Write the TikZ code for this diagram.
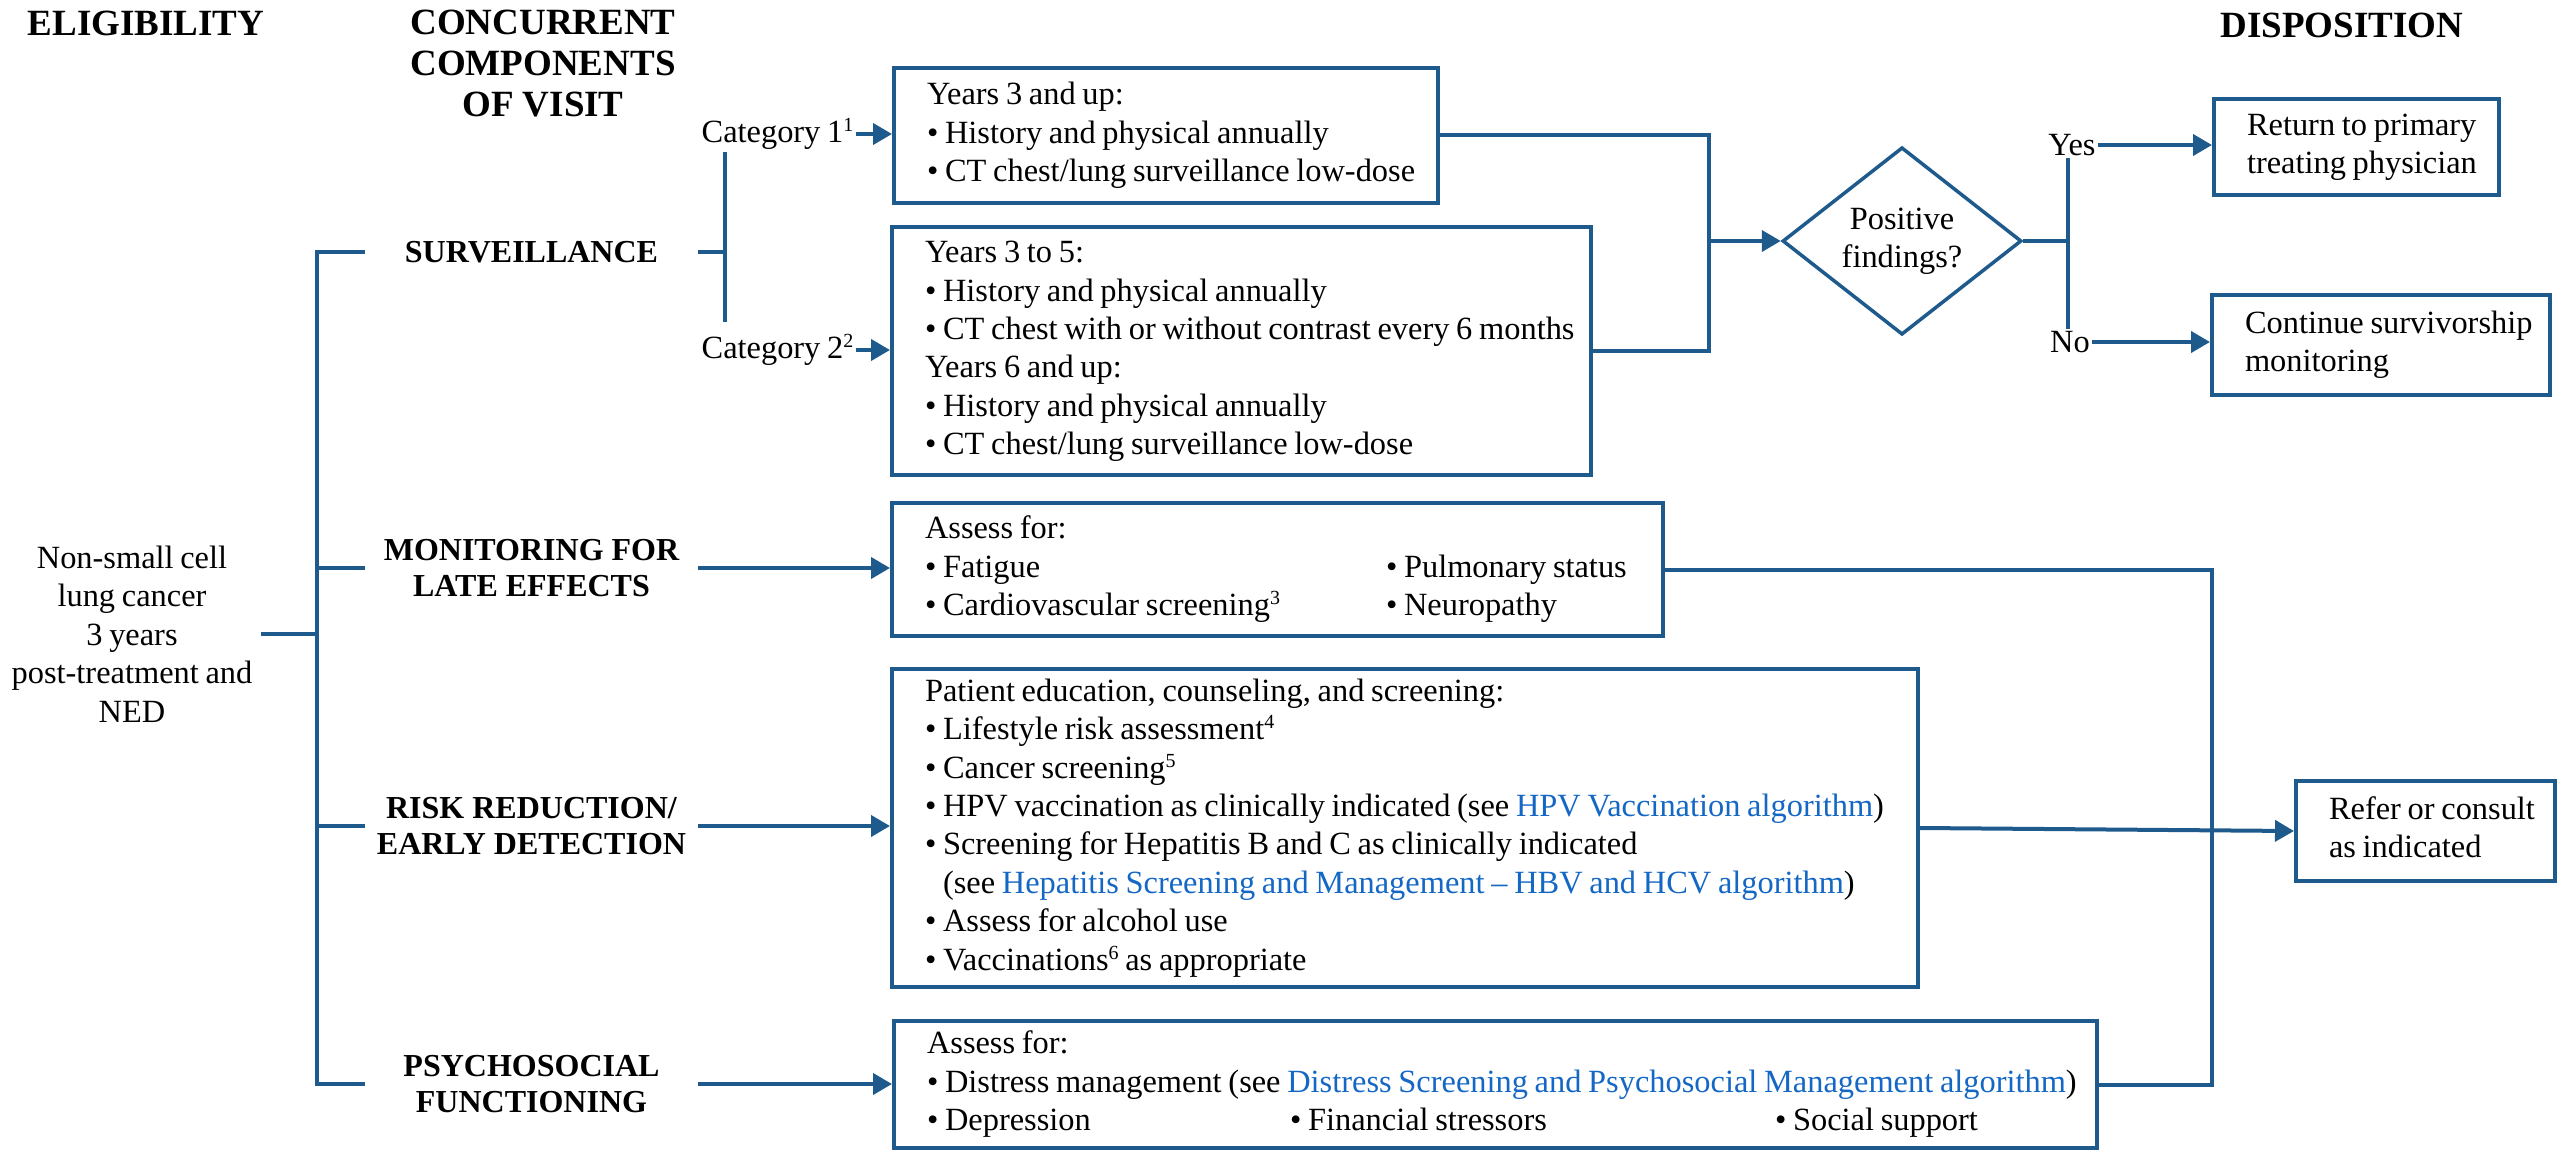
\documentclass[tikz,border=0pt]{standalone}
\usepackage{fontspec}
\setmainfont{Liberation Serif}
\newfontfamily\bxf{Liberation Serif}[WordSpace=0.83]
\usetikzlibrary{arrows.meta,shapes.geometric}
\definecolor{ln}{RGB}{31,90,140}
\definecolor{lk}{RGB}{20,103,196}
\newcommand{\lnk}[1]{\textcolor{lk}{#1}}
\newcommand{\bul}{\textbullet\ }
\newcommand{\sups}[1]{\raisebox{11pt}{\fontsize{20}{20}\selectfont #1}}
\tikzset{
  boxnode/.style={draw=ln, line width=4pt, anchor=north west, inner xsep=0pt, inner ysep=0pt,
    align=left, font=\bxf\fontsize{32.4}{38.4}\selectfont,
    execute at begin node={\leftskip=33pt\rightskip=-300pt plus 1fil\spaceskip=0pt\xspaceskip=0pt\relax\strut},
    execute at end node={\strut}},
  hdr/.style={font=\fontsize{32}{36}\selectfont\bfseries, align=center, minimum width=333pt, inner sep=0pt},
  tophdr/.style={font=\fontsize{37}{41}\selectfont\bfseries, align=center, inner sep=0pt},
  lbl/.style={font=\bxf\fontsize{32.4}{38.4}\selectfont, inner xsep=2pt, inner ysep=2pt},
  conn/.style={draw=ln, line width=4pt},
  arr/.style={conn, -{Triangle[length=19pt,width=21pt]}},
}
\begin{document}
\begin{tikzpicture}[x=1pt,y=-1pt]
\useasboundingbox (0,0) rectangle (2564,1150);

% top headers
\node[tophdr] (tE) at (146,23) {ELIGIBILITY};
\node[tophdr] (tC) at (543,64) {CONCURRENT\\COMPONENTS\\OF VISIT};
\node[tophdr] (tD) at (2342,25) {DISPOSITION};

% eligibility
\node[lbl, align=center, inner xsep=8pt] (el) at (132,634) {Non-small cell\\lung cancer\\3 years\\post-treatment and\\NED};

% component headers
\node[hdr] (hS) at (531.5,252) {SURVEILLANCE};
\node[hdr] (hM) at (531.5,568) {MONITORING FOR\\LATE EFFECTS};
\node[hdr] (hR) at (531.5,826) {RISK REDUCTION/\\EARLY DETECTION};
\node[hdr] (hP) at (531.5,1084) {PSYCHOSOCIAL\\FUNCTIONING};

% category labels
\node[lbl] (c1) at (777.5,134) {Category 1\sups{1}};
\node[lbl] (c2) at (777.5,350) {Category 2\sups{2}};

% boxes
\node[boxnode, text width=544pt, minimum height=135pt] (b1) at (892,66)
 {Years 3 and up:\\\bul History and physical annually\\\bul CT chest/lung surveillance low-dose};
\node[boxnode, text width=699pt, minimum height=248pt] (b2) at (890,225)
 {Years 3 to 5:\\\bul History and physical annually\\\bul CT chest with or without contrast every 6 months\\Years 6 and up:\\\bul History and physical annually\\\bul CT chest/lung surveillance low-dose};
\node[boxnode, text width=771pt, minimum height=133pt] (mon) at (890,501)
 {Assess for:\\\makebox[461pt][l]{\bul Fatigue}\bul Pulmonary status\\\makebox[461pt][l]{\bul Cardiovascular screening\sups{3}}\bul Neuropathy};
\node[boxnode, text width=1026pt, minimum height=318pt] (risk) at (890,667)
 {Patient education, counseling, and screening:\\\bul Lifestyle risk assessment\sups{4}\\\bul Cancer screening\sups{5}\\\bul HPV vaccination as clinically indicated (see \lnk{HPV Vaccination algorithm})\\\bul Screening for Hepatitis B and C as clinically indicated\\\hphantom{\textbullet}\ (see \lnk{Hepatitis Screening and Management \textendash\ HBV and HCV algorithm})\\\bul Assess for alcohol use\\\bul Vaccinations\sups{6} as appropriate};
\node[boxnode, text width=1203pt, minimum height=127pt] (psy) at (892,1019)
 {Assess for:\\\bul Distress management (see \lnk{Distress Screening and Psychosocial Management algorithm})\\\makebox[363pt][l]{\bul Depression}\makebox[485pt][l]{\bul Financial stressors}\bul Social support};
\node[boxnode, text width=285pt, minimum height=96pt] (ret) at (2212,97)
 {Return to primary\\treating physician};
\node[boxnode, text width=338pt, minimum height=100pt] (cont) at (2210,293)
 {Continue survivorship\\monitoring};
\node[boxnode, text width=259pt, minimum height=100pt] (ref) at (2294,779)
 {Refer or consult\\as indicated};

% decision
\node[draw=ln, line width=3.5pt, diamond, minimum width=239pt, minimum height=182pt, inner sep=0pt,
  align=center, font=\bxf\fontsize{32.4}{38.4}\selectfont] (dm) at (1902,241) {Positive\\findings?};
\node[lbl] (yes) at (2072,145) {Yes};
\node[lbl] (no) at (2070,342) {No};

% coordinates of vertical connectors
\coordinate (tk) at (317,0);
\coordinate (cv) at (725,252);
\coordinate (vj) at (1709,0);
\coordinate (yn) at (2068,0);
\coordinate (rv) at (2212,0);

% trunk
\draw[conn] (hS.west) -- (hS.west -| tk) -- (hP.west -| tk) -- (hP.west);
\draw[conn] (hM.west) -- (hM.west -| tk);
\draw[conn] (hR.west) -- (hR.west -| tk);
\draw[conn] (el.east) -- (el.east -| tk);

% surveillance branching
\draw[conn] (hS.east) -- (cv);
\draw[conn] (c1.south -| cv) -- ([yshift=10pt]c2.north -| cv);
\draw[arr] (c1.east) -- (c1.east -| b1.west);
\draw[arr] (c2.east) -- (c2.east -| b2.west);

% other components
\draw[arr] (hM.east) -- (hM.east -| mon.west);
\draw[arr] (hR.east) -- (hR.east -| risk.west);
\draw[arr] (hP.east) -- (hP.east -| psy.west);

% to decision
\draw[conn] (b1.east) -- (b1.east -| vj) -- (b2.east -| vj) -- (b2.east);
\draw[arr] (dm.west -| vj) -- (dm.west);
\draw[conn] (dm.east) -- (dm.east -| yn);
\draw[conn] (yes.south -| yn) -- (no.north -| yn);
\draw[arr] (yes.east) -- (yes.east -| ret.west);
\draw[arr] (no.east) -- (no.east -| cont.west);

% refer
\draw[conn] (mon.east) -- (mon.east -| rv) -- (psy.east -| rv) -- (psy.east);
\draw[arr] (risk.east) -- (ref.west);
\end{tikzpicture}
\end{document}
